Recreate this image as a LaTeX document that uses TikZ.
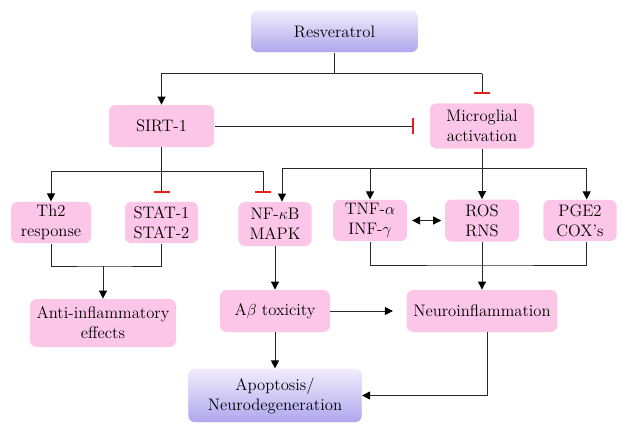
\documentclass[tikz,border=0pt]{standalone}
\usetikzlibrary{arrows.meta}
\definecolor{boxpink}{RGB}{252,198,232}
\definecolor{lavtop}{RGB}{240,237,252}
\definecolor{lavbot}{RGB}{176,166,238}
\definecolor{inhred}{RGB}{230,30,30}
\definecolor{linegray}{RGB}{40,40,40}

\begin{document}
\begin{tikzpicture}
    [x=0.75pt,y=-0.75pt,line width=0.65pt,
     every node/.style={rounded corners=5pt,fill=boxpink,align=center,inner sep=2pt,
       font=\fontsize{12.5}{15}\selectfont},
     lav/.style={top color=lavtop,bottom color=lavbot},
     plain/.style={draw=linegray},
     arr/.style={plain,-{Triangle[length=6pt,width=6pt,color=black]}},
     dbl/.style={plain,{Triangle[length=6pt,width=6pt,color=black]}-{Triangle[length=6pt,width=6pt,color=black]}},
     inh/.style={plain,-{Bar[width=12pt,line width=1.3pt,color=inhred]},shorten >=6.5pt}]
    \useasboundingbox (0,0) rectangle (627,433);
    \node[lav,minimum width=125pt,minimum height=31pt] (res) at (334.5,31.5) {Resveratrol};
    \node[minimum width=79pt,minimum height=31.5pt] (sirt) at (161.5,126) {SIRT-1};
    \node[minimum width=78pt,minimum height=34pt] (micro) at (482,126) {Microglial\\activation};
    \node[minimum width=60pt,minimum height=31pt] (th2) at (51,222.5) {Th2\\response};
    \node[minimum width=55pt,minimum height=31pt] (stat) at (161.5,222.5) {STAT-1\\STAT-2};
    \node[minimum width=55pt,minimum height=33pt] (nfkb) at (275,224) {NF-$\kappa$B\\MAPK};
    \node[minimum width=55.5pt,minimum height=31pt] (tnf) at (370,220.5) {TNF-$\alpha$\\INF-$\gamma$};
    \node[minimum width=55.5pt,minimum height=31.5pt] (ros) at (482,220.5) {ROS\\RNS};
    \node[minimum width=55pt,minimum height=31pt] (pge) at (580,220.5) {PGE2\\COX's};
    \node[minimum width=109.5pt,minimum height=36pt] (anti) at (103,323) {Anti-inflammatory\\effects};
    \node[minimum width=82.5pt,minimum height=31.5pt] (abeta) at (275,311) {A$\beta$ toxicity};
    \node[minimum width=113pt,minimum height=31.5pt] (neuro) at (482,311) {Neuroinflammation};
    \node[lav,minimum width=130pt,minimum height=40pt] (apop) at (275,395.5) {Apoptosis/\\Neurodegeneration};
    % resveratrol
    \draw[plain] (res.south) -- ++(0,21) coordinate (rj);
    \draw[arr] (rj) -| (sirt.north);
    \draw[plain] (rj) -- (rj -| micro.north) coordinate (rk);
    \draw[inh,shorten >=7pt] (rk) -- (micro.north);
    \draw[inh,shorten >=12pt] (sirt) -- (micro);
    % sirt-1
    \draw[plain] (sirt.south) -- ++(0,24) coordinate (sj);
    \draw[arr] (sj) -| (th2.north);
    \draw[inh] (sj) -- (stat.north);
    \draw[inh] (sj) -| ([xshift=-9pt]nfkb.north);
    % microglia
    \draw[plain] (micro.south) -- ++(0,19) coordinate (mj);
    \draw[arr] (mj) -| ([xshift=5.25pt]nfkb.north);
    \draw[arr] (mj) -| (tnf.north);
    \draw[arr] (mj) -- (ros.north);
    \draw[arr] (mj) -| ([xshift=5pt]pge.north);
    \draw[dbl,shorten <=3.5pt,shorten >=2.5pt] (tnf) -- (ros);
    % lower part
    \coordinate (aj) at (103,266);
    \draw[plain] (th2.south) |- (aj) -| (stat.south);
    \draw[arr] (aj) -- (anti.north);
    \coordinate (nj) at (482,265);
    \draw[plain] (tnf.south) |- (nj) -| ([xshift=5pt]pge.south);
    \draw[arr] (ros.south) -- (neuro.north);
    \draw[arr] (nfkb) -- (abeta);
    \draw[arr,shorten >=10pt] (abeta) -- (neuro);
    \draw[arr] (abeta) -- (apop);
    \draw[arr] ([xshift=3.75pt]neuro.south) |- (apop.east);
\end{tikzpicture}
\end{document}
